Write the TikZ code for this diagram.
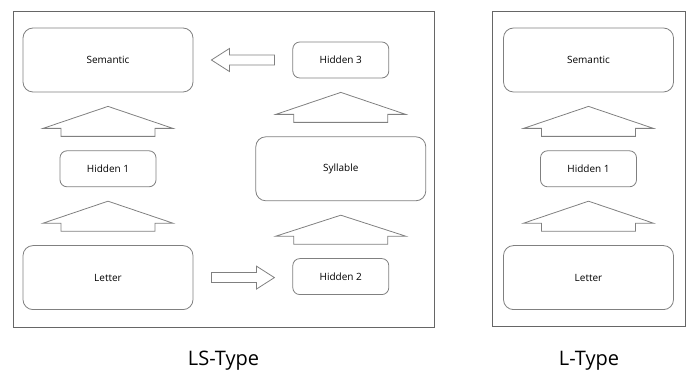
\documentclass[tikz,border=0pt]{standalone}
\usepackage{fontspec}
\setmainfont{Open Sans}
\usepackage{tikz}
\usetikzlibrary{positioning,calc}
\tikzset{
bigbox/.style = {draw=gray, line width=0.8pt, rounded corners=10pt, minimum width=170pt, minimum height=64pt, font=\fontsize{10}{12}\selectfont},
smallbox/.style = {draw=gray, line width=0.8pt, rounded corners=7pt, minimum width=96pt, minimum height=36pt, font=\fontsize{10}{12}\selectfont},
frame/.style = {draw=black!60, line width=0.8pt},
typelabel/.style = {anchor=base, font=\fontsize{20}{24}\selectfont},
upblock/.style = {draw=gray, line width=0.8pt, to path={
    ($(\tikztostart)+(-47,14)$) -- ++(0,8) -- ++(-18,0) -- ($(\tikztotarget)+(0,-14)$)
    -- ($(\tikztostart)+(65,22)$) -- ++(-18,0) -- ++(0,-8) -- cycle}},
sideblock/.style = {draw=gray, line width=0.8pt, to path={
    ($(\tikztostart)+({18*(#1)},5)$) -- ($(\tikztotarget |- \tikztostart)+({-36*(#1)},5)$)
    -- ++(0,6.5) -- ($(\tikztotarget |- \tikztostart)+({-18*(#1)},0)$)
    -- ($(\tikztotarget |- \tikztostart)+({-36*(#1)},-11.5)$) -- ++(0,6.5)
    -- ($(\tikztostart)+({18*(#1)},-5)$) -- cycle}}
}

\begin{document}
\begin{tikzpicture}[x=1pt, y=1pt, node distance=58pt]
    \useasboundingbox (0,0) rectangle (687,369);

    % LS-Type
    \node [bigbox] (sem) at (108,309) {Semantic};
    \node [smallbox, below=of sem] (hidone) {Hidden 1};
    \node [bigbox, below=of hidone] (letter) {Letter};
    \node [smallbox, right=99pt of sem] (hidthree) {Hidden 3};
    \node [bigbox, below=of hidthree] (syl) {Syllable};
    \node [smallbox, below=57pt of syl] (hidtwo) {Hidden 2};
    \draw [upblock] (letter.north) to (hidone.south);
    \draw [upblock] (hidone.north) to (sem.south);
    \draw [upblock] (hidtwo.north) to (syl.south);
    \draw [upblock] (syl.north) to (hidthree.south);
    \draw [sideblock=1] (letter.east) to (hidtwo.west);
    \draw [sideblock=-1] (hidthree.west) to (sem.east);
    \draw [frame] ($(sem.north west)+(-9,16)$) rectangle ($(syl.east |- letter.south)+(8,-17)$);
    \node [typelabel] (lstype) at (223.5,4) {LS-Type};

    % L-Type
    \node [bigbox] (semL) at (588.5,309) {Semantic};
    \node [smallbox, below=of semL] (hidoneL) {Hidden 1};
    \node [bigbox, below=of hidoneL] (letterL) {Letter};
    \draw [upblock] (letterL.north) to (hidoneL.south);
    \draw [upblock] (hidoneL.north) to (semL.south);
    \draw [frame] ($(semL.north west)+(-11,16)$) rectangle ($(letterL.south east)+(11,-16)$);
    \node [typelabel] (ltype) at (589,4) {L-Type};
\end{tikzpicture}
\end{document}
